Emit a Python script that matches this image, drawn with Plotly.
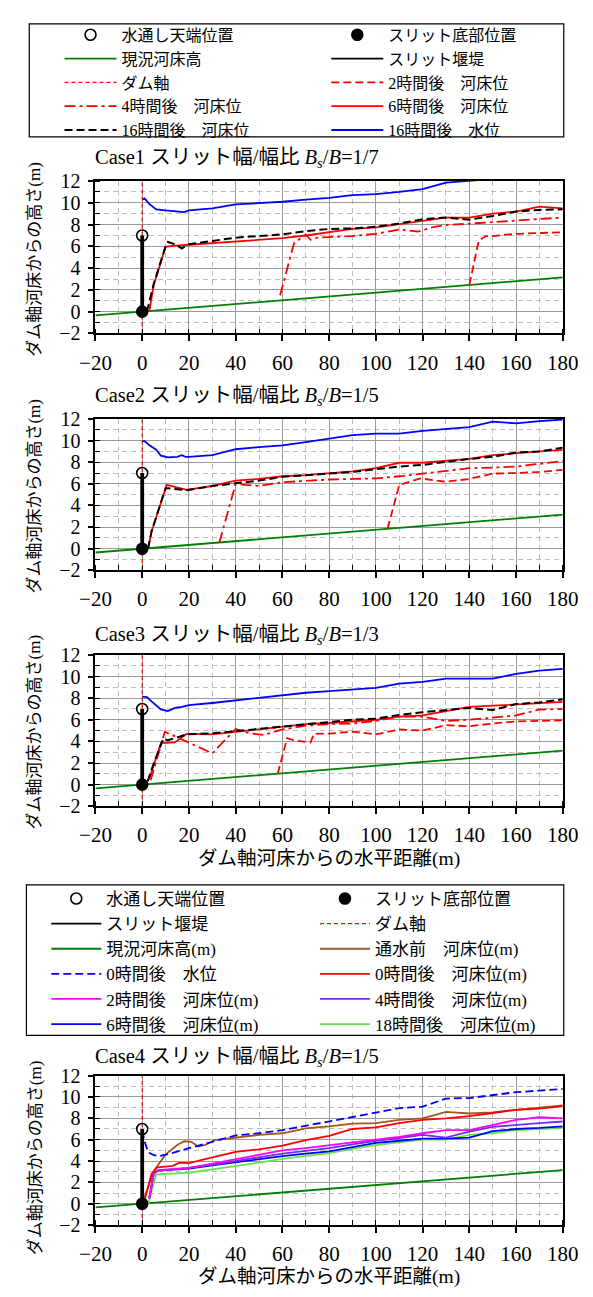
import plotly.graph_objects as go

# ---------------- data ----------------
ground_x = [-20, 0, 180]
ground_y = [-0.35, 0.0, 3.15]
dam_x = [0, 0]
dam_y = [0, 7]
crest_x = [0]
crest_y = [7]
bottom_x = [0]
bottom_y = [0]
axis_x = [0, 0]
axis_y = [-2, 12]

case_names = ["Case1", "Case2", "Case3", "Case4"]
case_ratios = ["1/7", "1/5", "1/3", "1/5"]

# Case1
c1_w16_x = [0, 1, 3, 6, 10, 15, 18, 20, 30, 40, 50, 60, 70, 80, 90, 100, 110, 120, 130, 140, 150]
c1_w16_y = [10.3, 10.4, 9.9, 9.4, 9.3, 9.2, 9.15, 9.3, 9.5, 9.85, 9.95, 10.1, 10.3, 10.45, 10.7, 10.8, 11.0, 11.25, 11.85, 12.0, 12.2]
c1_b16_x = [2, 5, 10, 11, 14, 17, 19, 20, 30, 40, 50, 60, 70, 80, 90, 100, 110, 120, 130, 140, 150, 160, 170, 180]
c1_b16_y = [0, 2.6, 6.0, 6.4, 6.2, 5.8, 6.1, 6.2, 6.5, 6.8, 6.95, 7.1, 7.4, 7.6, 7.65, 7.8, 8.1, 8.5, 8.65, 8.45, 8.8, 9.2, 9.35, 9.4]
c1_b6_x = [3, 5, 10, 13, 20, 30, 40, 50, 60, 70, 80, 90, 100, 110, 120, 130, 140, 150, 160, 170, 180]
c1_b6_y = [0, 2.5, 5.95, 6.05, 6.15, 6.3, 6.45, 6.55, 6.75, 7.0, 7.3, 7.6, 7.75, 8.05, 8.3, 8.65, 8.65, 9.0, 9.2, 9.65, 9.5]
c1_b4_x = [59, 65, 70, 72, 75, 80, 90, 100, 110, 118, 125, 130, 140, 150, 160, 170, 180]
c1_b4_y = [1.5, 6.3, 7.1, 6.6, 6.8, 6.85, 6.95, 7.15, 7.55, 7.35, 7.8, 7.95, 8.1, 8.2, 8.35, 8.5, 8.65]
c1_b2_x = [140, 144, 147, 150, 160, 170, 180]
c1_b2_y = [2.45, 6.5, 6.95, 6.95, 7.15, 7.2, 7.3]

# Case2
c2_w16_x = [0, 1, 3, 5, 6, 8, 11, 15, 17, 18.5, 20, 30, 40, 50, 60, 70, 80, 90, 100, 110, 120, 130, 140, 150, 160, 170, 180]
c2_w16_y = [9.95, 9.95, 9.6, 9.3, 9.15, 8.6, 8.45, 8.5, 8.65, 8.5, 8.5, 8.65, 9.2, 9.4, 9.55, 9.85, 10.15, 10.5, 10.65, 10.65, 10.9, 11.05, 11.25, 11.75, 11.6, 11.8, 11.95]
c2_b16_x = [2.5, 4, 10, 11, 19, 30, 40, 50, 60, 70, 80, 90, 100, 110, 120, 130, 140, 150, 160, 170, 180]
c2_b16_y = [0, 1.6, 5.6, 5.6, 5.4, 5.8, 6.05, 6.3, 6.65, 6.8, 6.95, 7.1, 7.35, 7.6, 7.75, 8.05, 8.3, 8.5, 8.9, 9.0, 9.35]
c2_b6_x = [2.5, 4, 10.5, 13, 19, 30, 40, 50, 60, 70, 80, 90, 100, 110, 120, 130, 140, 150, 160, 170, 180]
c2_b6_y = [0, 1.6, 5.9, 5.75, 5.45, 5.8, 6.3, 6.45, 6.7, 6.8, 7.0, 7.15, 7.45, 7.95, 7.95, 8.15, 8.3, 8.65, 8.85, 9.0, 9.15]
c2_b4_x = [33, 40, 44, 50, 60, 70, 80, 90, 100, 110, 120, 130, 140, 150, 160, 170, 180]
c2_b4_y = [0.55, 6.0, 5.9, 5.8, 6.15, 6.3, 6.4, 6.45, 6.5, 6.7, 6.95, 7.2, 7.45, 7.5, 7.6, 7.85, 8.1]
c2_b2_x = [105, 110, 119, 130, 140, 150, 160, 170, 180]
c2_b2_y = [1.85, 5.9, 6.5, 6.2, 6.45, 6.95, 7.0, 7.1, 7.3]

# Case3
c3_w16_x = [0, 2, 4, 6, 8, 11, 14, 17, 20, 30, 40, 50, 60, 70, 80, 90, 100, 110, 120, 130, 140, 150, 160, 170, 180]
c3_w16_y = [8.15, 8.1, 7.7, 7.3, 6.95, 6.8, 7.1, 7.2, 7.35, 7.55, 7.8, 8.05, 8.3, 8.5, 8.65, 8.8, 8.95, 9.35, 9.5, 9.8, 9.8, 9.8, 10.25, 10.55, 10.7]
c3_b16_x = [2.3, 5, 9, 11, 19, 30, 40, 50, 60, 70, 80, 90, 100, 110, 120, 130, 140, 150, 160, 170, 180]
c3_b16_y = [0.3, 2.0, 4.25, 4.1, 4.65, 4.75, 4.95, 5.15, 5.4, 5.6, 5.75, 6.0, 6.1, 6.45, 6.7, 6.9, 7.1, 6.9, 7.45, 7.6, 7.9]
c3_b6_x = [3, 8, 14, 19, 30, 40, 50, 60, 70, 80, 90, 100, 110, 120, 130, 140, 150, 160, 170, 180]
c3_b6_y = [0.5, 3.85, 3.9, 4.7, 4.65, 4.9, 5.1, 5.35, 5.6, 5.7, 5.85, 6.0, 6.3, 6.4, 6.8, 7.2, 7.3, 7.4, 7.5, 7.65]
c3_b4_x = [3.6, 9.7, 30, 40, 46, 52, 60, 70, 80, 90, 100, 110, 120, 130, 140, 150, 160, 170, 180]
c3_b4_y = [0.4, 4.9, 2.9, 5.15, 4.75, 4.6, 5.1, 5.45, 5.6, 5.65, 5.9, 6.3, 6.3, 5.9, 6.0, 6.2, 6.4, 6.95, 7.0]
c3_b2_x = [58, 62, 65, 70, 72, 73.5, 80, 90, 100, 110, 120, 130, 140, 150, 160, 170, 180]
c3_b2_y = [1.0, 4.3, 4.1, 3.95, 3.9, 4.7, 4.72, 4.9, 4.65, 5.1, 5.0, 5.5, 5.4, 5.65, 5.85, 5.9, 5.95]

# Case4
c4_w0_x = [0, 1, 2.6, 5, 7, 12, 20, 25, 30, 40, 50, 60, 70, 80, 90, 100, 110, 120, 130, 140, 150, 160, 170, 180]
c4_w0_y = [6.9, 5.85, 4.8, 4.55, 4.45, 4.7, 5.2, 5.5, 5.8, 6.4, 6.6, 6.9, 7.3, 7.7, 8.1, 8.55, 8.95, 9.1, 9.85, 9.9, 10.2, 10.45, 10.6, 10.75]
c4_pre_x = [0.5, 2, 5, 10, 15, 18, 21, 24, 27, 31, 40, 50, 60, 70, 80, 90, 100, 110, 120, 130, 140, 150, 160, 170, 180]
c4_pre_y = [0.3, 1.2, 3.1, 4.6, 5.5, 5.85, 5.8, 5.35, 5.5, 5.95, 6.2, 6.45, 6.6, 7.05, 7.25, 7.5, 7.55, 7.85, 8.0, 8.6, 8.45, 8.55, 8.8, 9.0, 9.2]
c4_b0_x = [1, 4, 6.5, 10, 13, 16, 18, 20, 30, 40, 50, 60, 70, 80, 90, 100, 110, 120, 130, 140, 150, 160, 170, 180]
c4_b0_y = [0.3, 2.8, 3.4, 3.5, 3.55, 3.85, 3.8, 3.8, 4.35, 4.85, 5.1, 5.45, 5.95, 6.35, 7.0, 7.15, 7.55, 7.85, 8.0, 8.2, 8.5, 8.8, 8.9, 9.15]
c4_b2_x = [3, 5, 7, 10, 20, 30, 40, 50, 60, 70, 80, 90, 100, 110, 120, 130, 140, 150, 160, 170, 180]
c4_b2_y = [0.5, 2.8, 3.1, 3.15, 3.35, 3.75, 4.15, 4.55, 5.0, 5.2, 5.5, 5.75, 6.0, 6.25, 6.6, 6.9, 6.9, 7.4, 7.85, 8.1, 8.0]
c4_b4_x = [3, 5, 7, 10, 20, 30, 40, 50, 60, 70, 80, 90, 100, 110, 120, 130, 140, 150, 160, 170, 180]
c4_b4_y = [0.5, 2.9, 3.15, 3.2, 3.35, 3.65, 4.0, 4.35, 4.7, 4.95, 5.2, 5.55, 5.9, 6.15, 6.45, 6.2, 6.75, 7.2, 7.4, 7.55, 7.7]
c4_b6_x = [3, 5, 7, 13, 20, 30, 40, 50, 60, 70, 80, 90, 100, 110, 120, 130, 140, 150, 160, 170, 180]
c4_b6_y = [0.5, 2.9, 3.1, 3.2, 3.3, 3.6, 3.9, 4.2, 4.45, 4.7, 4.9, 5.3, 5.7, 5.9, 6.1, 6.1, 6.2, 6.8, 7.0, 7.1, 7.25]
c4_b18_x = [2.6, 6, 20, 30, 40, 50, 60, 70, 80, 90, 100, 110, 120, 130, 140, 150, 160, 170, 180]
c4_b18_y = [0, 2.75, 2.9, 3.2, 3.5, 3.85, 4.2, 4.45, 4.75, 5.15, 5.5, 5.75, 6.0, 6.0, 6.45, 6.6, 6.9, 7.0, 7.1]

# ---------------- layout geometry (pixels) ----------------
W, H = 593, 1297
XL, XR = 84, 578
panel_px = [(173, 328), (415, 569), (655, 809), (1083, 1235)]
title_px = [150, 392, 635, 1065]
ylab_px = [252, 493, 733, 1166]
xtitle_px = {3: 863, 4: 1288}

SERIF = "Liberation Serif, Noto Sans CJK JP, serif"
RED = "#ff0000"

fig = go.Figure()


def ax(i):
    return ("x" if i == 1 else f"x{i}"), ("y" if i == 1 else f"y{i}")


def add_line(i, x, y, name, color, width, dash="solid", legend=None, rank=None):
    xa, ya = ax(i)
    fig.add_trace(go.Scatter(
        x=x, y=y, mode="lines", name=name, xaxis=xa, yaxis=ya,
        line=dict(color=color, width=width, dash=dash),
        showlegend=legend is not None, legend=legend or "legend",
        legendrank=rank if rank is not None else 1000,
        hoverinfo="skip"))


def add_legend_only(i, name, color, width, legend, rank):
    # legend sample for the slit dam (drawn thin in the reference legend)
    xa, ya = ax(i)
    fig.add_trace(go.Scatter(
        x=[None], y=[None], mode="lines", name=name, xaxis=xa, yaxis=ya,
        line=dict(color=color, width=width), showlegend=True,
        legend=legend, legendrank=rank, hoverinfo="skip"))


def add_marker(i, x, y, name, symbol, legend=None, rank=None):
    xa, ya = ax(i)
    fig.add_trace(go.Scatter(
        x=x, y=y, mode="markers", name=name, xaxis=xa, yaxis=ya,
        marker=dict(symbol=symbol, size=11, color="black",
                    line=dict(color="black", width=1.6)),
        showlegend=legend is not None, legend=legend or "legend",
        legendrank=rank if rank is not None else 1000,
        hoverinfo="skip"))


DASH = "8px,4px"
DASHDOT = "11px,4px,3px,4px"
AXDASH = "4px,3px"

cases = [
    (c1_w16_x, c1_w16_y, c1_b16_x, c1_b16_y, c1_b6_x, c1_b6_y, c1_b4_x, c1_b4_y, c1_b2_x, c1_b2_y),
    (c2_w16_x, c2_w16_y, c2_b16_x, c2_b16_y, c2_b6_x, c2_b6_y, c2_b4_x, c2_b4_y, c2_b2_x, c2_b2_y),
    (c3_w16_x, c3_w16_y, c3_b16_x, c3_b16_y, c3_b6_x, c3_b6_y, c3_b4_x, c3_b4_y, c3_b2_x, c3_b2_y),
]

# legend columns: "legend" = left column, "legend3" = right column (top box)
for k, (wx, wy, b16x, b16y, b6x, b6y, b4x, b4y, b2x, b2y) in enumerate(cases):
    i = k + 1
    show = i == 1
    L = "legend" if show else None
    R = "legend3" if show else None
    add_line(i, ground_x, ground_y, "現況河床高", "#008000", 1.8, legend=L, rank=2)
    add_line(i, b2x, b2y, "2時間後　河床位", RED, 1.8, DASH, legend=R, rank=3)
    add_line(i, b4x, b4y, "4時間後　河床位", RED, 1.8, DASHDOT, legend=L, rank=4)
    add_line(i, b6x, b6y, "6時間後　河床位", RED, 1.8, legend=R, rank=4)
    add_line(i, b16x, b16y, "16時間後　河床位", "black", 2.0, DASH, legend=L, rank=5)
    add_line(i, wx, wy, "16時間後　水位", "#0000ff", 1.8, legend=R, rank=5)
    add_line(i, axis_x, axis_y, "ダム軸", RED, 1.1, AXDASH, legend=L, rank=3)
    add_line(i, dam_x, dam_y, "スリット堰堤", "black", 3.8)
    if show:
        add_legend_only(i, "スリット堰堤", "black", 1.8, R, 2)
    add_marker(i, crest_x, crest_y, "水通し天端位置", "circle-open", legend=L, rank=1)
    add_marker(i, bottom_x, bottom_y, "スリット底部位置", "circle", legend=R, rank=1)

# Case 4: "legend2" = left column, "legend4" = right column (lower box)
L2, R2 = "legend2", "legend4"
add_line(4, ground_x, ground_y, "現況河床高(m)", "#008000", 1.8, legend=L2, rank=3)
add_line(4, c4_pre_x, c4_pre_y, "通水前　河床位(m)", "#a5551f", 1.8, legend=R2, rank=3)
add_line(4, c4_b18_x, c4_b18_y, "18時間後　河床位(m)", "#66e64d", 1.8, legend=R2, rank=6)
add_line(4, c4_b6_x, c4_b6_y, "6時間後　河床位(m)", "#0000ff", 1.8, legend=L2, rank=6)
add_line(4, c4_b4_x, c4_b4_y, "4時間後　河床位(m)", "#7030e0", 1.8, legend=R2, rank=5)
add_line(4, c4_b2_x, c4_b2_y, "2時間後　河床位(m)", "#ff00ff", 1.8, legend=L2, rank=5)
add_line(4, c4_b0_x, c4_b0_y, "0時間後　河床位(m)", RED, 1.8, legend=R2, rank=4)
add_line(4, c4_w0_x, c4_w0_y, "0時間後　水位", "#0000ff", 1.8, DASH, legend=L2, rank=4)
add_line(4, axis_x, axis_y, "ダム軸", RED, 1.1, AXDASH, legend=R2, rank=2)
add_line(4, dam_x, dam_y, "スリット堰堤", "black", 3.8)
add_legend_only(4, "スリット堰堤", "black", 1.8, L2, 2)
add_marker(4, crest_x, crest_y, "水通し天端位置", "circle-open", legend=L2, rank=1)
add_marker(4, bottom_x, bottom_y, "スリット底部位置", "circle", legend=R2, rank=1)


def legend_cfg(text_x, line_len, top, size):
    # text starts at x + itemwidth + 10 (no border)
    return dict(x=(text_x - line_len - 10) / W, y=1 - top / H,
                xanchor="left", yanchor="top", orientation="v",
                itemwidth=line_len, borderwidth=0, bgcolor="rgba(0,0,0,0)",
                font=dict(family=SERIF, size=size, color="black"),
                traceorder="normal", tracegroupgap=0)


layout = dict(
    width=W, height=H, autosize=False,
    margin=dict(l=0, r=0, t=0, b=0),
    paper_bgcolor="white", plot_bgcolor="white",
    font=dict(family=SERIF, color="black", size=16),
    legend=legend_cfg(108, 52, 7, 16),
    legend3=legend_cfg(390, 52, 7, 16),
    legend2=legend_cfg(92, 50, 885, 17),
    legend4=legend_cfg(376, 50, 885, 17),
    annotations=[],
    shapes=[
        dict(type="rect", xref="paper", yref="paper",
             x0=14 / W, x1=579 / W, y0=1 - 128 / H, y1=1 - 13 / H,
             line=dict(color="black", width=1.2), fillcolor="rgba(0,0,0,0)", layer="above"),
        dict(type="rect", xref="paper", yref="paper",
             x0=11 / W, x1=579 / W, y0=1 - 1042 / H, y1=1 - 889 / H,
             line=dict(color="black", width=1.2), fillcolor="rgba(0,0,0,0)", layer="above"),
    ],
)

for i in range(1, 5):
    top, bot = panel_px[i - 1]
    xa_name = "xaxis" if i == 1 else f"xaxis{i}"
    ya_name = "yaxis" if i == 1 else f"yaxis{i}"
    xa, ya = ax(i)
    layout[xa_name] = dict(
        domain=[XL / W, XR / W], range=[-20, 180], anchor=ya,
        tickmode="linear", tick0=0, dtick=20,
        showline=True, linecolor="black", linewidth=1.8, mirror=True,
        ticks="outside", ticklen=6, tickwidth=1.5, tickcolor="black",
        showgrid=True, gridcolor="#9a9a9a", gridwidth=1.4, zeroline=False,
        minor=dict(tick0=0, dtick=10, showgrid=True, gridcolor="#bdbdbd",
                   griddash="5px,4px", gridwidth=1.1, ticks="inside",
                   ticklen=5, tickcolor="black", tickwidth=1.2),
        tickfont=dict(family=SERIF, size=21, color="black"),
        ticklabelstandoff=3, ticklabeloverflow="allow",
    )
    layout[ya_name] = dict(
        domain=[1 - bot / H, 1 - top / H], range=[-2, 12], anchor=xa,
        tickmode="linear", tick0=0, dtick=2,
        showline=True, linecolor="black", linewidth=1.8, mirror=True,
        ticks="outside", ticklen=6, tickwidth=1.5, tickcolor="black",
        showgrid=True, gridcolor="#9a9a9a", gridwidth=1.4, zeroline=False,
        minor=dict(tick0=0, dtick=1, showgrid=True, gridcolor="#bdbdbd",
                   griddash="5px,4px", gridwidth=1.1, ticks="inside",
                   ticklen=5, tickcolor="black", tickwidth=1.2),
        tickfont=dict(family=SERIF, size=20, color="black"),
        ticklabelstandoff=3, ticklabeloverflow="allow",
    )
    layout["annotations"].append(dict(
        x=(XL - 3) / W, y=1 - title_px[i - 1] / H, xref="paper", yref="paper",
        xanchor="left", yanchor="middle", showarrow=False,
        text=f"{case_names[i-1]} スリット幅/幅比 <i>B</i><sub><i>s</i></sub>/<i>B</i>={case_ratios[i-1]}",
        font=dict(family=SERIF, size=20.5, color="black")))
    layout["annotations"].append(dict(
        x=20 / W, y=1 - ylab_px[i - 1] / H, xref="paper", yref="paper",
        xanchor="center", yanchor="middle", showarrow=False, textangle=-90,
        text="ダム軸河床からの高さ(m)",
        font=dict(family=SERIF, size=17, color="black")))
    if i in xtitle_px:
        layout["annotations"].append(dict(
            x=(XL + XR) / 2 / W, y=1 - xtitle_px[i] / H, xref="paper", yref="paper",
            xanchor="center", yanchor="middle", showarrow=False,
            text="ダム軸河床からの水平距離(m)",
            font=dict(family=SERIF, size=19.5, color="black")))

fig.update_layout(**layout)

fig.write_html("out.html", config={"displayModeBar": False},
               post_script="document.body.style.margin='0';document.body.style.overflow='hidden';")
